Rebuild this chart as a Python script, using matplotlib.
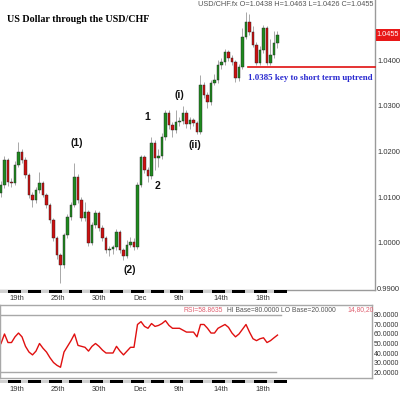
"""
USD/CHF candles with Elliott wave counts and an RSI panel underneath.
"""
import matplotlib.pyplot as plt
from matplotlib.patches import Rectangle

W, H = 400, 399

# candle data, one entry per bar
opens = [1.0109, 1.0127, 1.0181, 1.0133, 1.0131, 1.0170, 1.0199, 1.0181, 1.0148, 1.0105,
         1.0094, 1.0116, 1.0131, 1.0105, 1.0083, 1.0050, 1.0011, 0.9973, 0.9951, 1.0017,
         1.0057, 1.0083, 1.0144, 1.0094, 1.0054, 1.0067, 1.0000, 1.0039, 1.0065, 1.0032,
         1.0011, 0.9984, 0.9986, 0.9991, 1.0024, 0.9984, 0.9971, 0.9995, 1.0002, 0.9991,
         1.0127, 1.0188, 1.0159, 1.0146, 1.0218, 1.0186, 1.0190, 1.0232, 1.0284, 1.0258,
         1.0247, 1.0264, 1.0267, 1.0284, 1.0260, 1.0269, 1.0262, 1.0242, 1.0345, 1.0323,
         1.0308, 1.0350, 1.0356, 1.0389, 1.0396, 1.0418, 1.0404, 1.0396, 1.0361, 1.0385,
         1.0450, 1.0483, 1.0461, 1.0433, 1.0393, 1.0422, 1.0470, 1.0393, 1.0411, 1.0438]
closes = [1.0127, 1.0181, 1.0133, 1.0131, 1.0170, 1.0199, 1.0181, 1.0148, 1.0105, 1.0094,
          1.0116, 1.0131, 1.0105, 1.0083, 1.0050, 1.0011, 0.9973, 0.9951, 1.0017, 1.0057,
          1.0083, 1.0144, 1.0094, 1.0054, 1.0067, 1.0000, 1.0039, 1.0065, 1.0032, 1.0011,
          0.9984, 0.9986, 0.9991, 1.0024, 0.9984, 0.9971, 0.9995, 1.0002, 0.9991, 1.0127,
          1.0188, 1.0159, 1.0146, 1.0218, 1.0186, 1.0190, 1.0232, 1.0284, 1.0258, 1.0247,
          1.0264, 1.0267, 1.0284, 1.0260, 1.0269, 1.0262, 1.0242, 1.0345, 1.0323, 1.0308,
          1.0350, 1.0356, 1.0389, 1.0396, 1.0418, 1.0404, 1.0396, 1.0361, 1.0385, 1.0450,
          1.0483, 1.0461, 1.0433, 1.0393, 1.0422, 1.0470, 1.0393, 1.0411, 1.0438, 1.0455]
highs = [1.0135, 1.0190, 1.0186, 1.0142, 1.0178, 1.0221, 1.0205, 1.0188, 1.0152, 1.0112,
         1.0122, 1.0155, 1.0136, 1.0110, 1.0088, 1.0055, 1.0016, 0.9978, 1.0022, 1.0062,
         1.0090, 1.0175, 1.0150, 1.0100, 1.0090, 1.0072, 1.0045, 1.0072, 1.0070, 1.0038,
         1.0016, 0.9992, 0.9996, 1.0030, 1.0029, 0.9989, 1.0006, 1.0012, 1.0010, 1.0133,
         1.0192, 1.0193, 1.0165, 1.0232, 1.0224, 1.0205, 1.0240, 1.0291, 1.0290, 1.0264,
         1.0290, 1.0275, 1.0300, 1.0290, 1.0276, 1.0273, 1.0267, 1.0367, 1.0352, 1.0330,
         1.0356, 1.0370, 1.0400, 1.0405, 1.0425, 1.0422, 1.0410, 1.0400, 1.0392, 1.0470,
         1.0505, 1.0500, 1.0475, 1.0440, 1.0430, 1.0476, 1.0474, 1.0445, 1.0463, 1.0463]
lows = [1.0100, 1.0120, 1.0125, 1.0122, 1.0126, 1.0165, 1.0175, 1.0142, 1.0098, 1.0078,
        1.0088, 1.0110, 1.0100, 1.0076, 1.0044, 1.0005, 0.9965, 0.9912, 0.9945, 1.0010,
        1.0050, 1.0078, 1.0088, 1.0048, 1.0048, 0.9994, 0.9995, 1.0033, 1.0026, 1.0005,
        0.9978, 0.9971, 0.9975, 0.9985, 0.9978, 0.9962, 0.9966, 0.9990, 0.9985, 0.9986,
        1.0122, 1.0152, 1.0133, 1.0140, 1.0160, 1.0165, 1.0184, 1.0226, 1.0250, 1.0232,
        1.0240, 1.0255, 1.0260, 1.0252, 1.0250, 1.0255, 1.0238, 1.0238, 1.0316, 1.0295,
        1.0302, 1.0345, 1.0350, 1.0380, 1.0390, 1.0398, 1.0390, 1.0352, 1.0355, 1.0380,
        1.0445, 1.0455, 1.0428, 1.0388, 1.0388, 1.0415, 1.0388, 1.0388, 1.0405, 1.0426]
rsi = [50, 60, 51, 51, 57, 61, 57, 47, 41, 38, 42, 50, 45, 41, 35, 30, 27, 25, 41, 47,
       53, 60, 48, 47, 46, 42, 47, 50, 47, 43, 40, 40, 40, 47, 42, 38, 42, 46, 46, 70,
       73, 68, 66, 71, 68, 69, 71, 74, 69, 66, 66, 66, 64, 62, 62, 62, 57, 70, 70, 66,
       61, 61, 66, 68, 70, 67, 61, 57, 60, 65, 70, 62, 55, 53, 55, 56, 51, 53, 56, 58.8635]

date_labels = ["19th", "25th", "30th", "Dec", "9th", "14th", "18th"]
date_pos = [4.6, 16.3, 28.0, 39.7, 50.9, 62.9, 74.9]
price_ticks = [0.99, 1.00, 1.01, 1.02, 1.03, 1.04]
rsi_ticks = [20, 30, 40, 50, 60, 70, 80]
waves = [("(1)", 21.7, 1.0218), ("(2)", 36.8, 0.9940), ("1", 41.7, 1.0275),
         ("2", 44.6, 1.0125), ("(i)", 51.1, 1.0323), ("(ii)", 55.4, 1.0215)]
support = 1.0385

PX = 3.5  # pixels per bar
X0 = -0.2857
SANS = "Liberation Sans"


def fx(x):
    return x / W


def fy(y):
    return 1 - y / H


def date_band(y):
    # light rule with alternating black blocks, as in the trading platform
    fig.add_artist(Rectangle((fx(0), fy(y + 3)), fx(280), 3 / H, color="#d0d0d0", lw=0))
    for p in date_pos:
        t = 1 + PX * p
        for s in (t - 9, t + 11):
            if s < 280:
                fig.add_artist(Rectangle((fx(max(s, 0)), fy(y + 3)), fx(13), 3 / H,
                                         color="black", lw=0))


fig = plt.figure(figsize=(W / 100, H / 100), dpi=100)
fig.patch.set_facecolor("white")

# price panel
ax = fig.add_axes([0, fy(290), fx(375), 290 / H])
ax.set_xlim(X0, X0 + 375 / PX)
ax.set_ylim(0.98968, 1.05313)
for side in ("left", "top"):
    ax.spines[side].set_visible(False)
for side in ("right", "bottom"):
    ax.spines[side].set_color("#9a9a9a")
    ax.spines[side].set_linewidth(1.0)

idx = range(len(closes))
ax.vlines(idx, lows, highs, color="#a8a8a8", lw=0.7, zorder=1)
for i in idx:
    o, c = opens[i], closes[i]
    col = "#1f8a1f" if c >= o else "#cc1111"
    ax.bar(i, max(abs(c - o), 0.00012), bottom=min(o, c), width=0.62, color=col,
           edgecolor="#222222", linewidth=0.3, zorder=2)

ax.yaxis.tick_right()
ax.set_yticks(price_ticks)
ax.set_yticklabels(["%.4f" % v for v in price_ticks])
ax.set_xticks(date_pos)
ax.set_xticklabels(date_labels)
ax.tick_params(length=0, labelsize=5.4, labelcolor="#333333", pad=1.5)
ax.tick_params(axis="x", pad=3.5)
for lab in ax.get_xticklabels() + ax.get_yticklabels():
    lab.set_family(SANS)

ax.plot([70.6, X0 + 375 / PX], [support, support], color="#e01010", lw=1.2,
        clip_on=False, zorder=3)

for txt, xi, yv in waves:
    ax.text(xi, yv, txt, ha="center", va="center", fontsize=7.5, fontweight="bold",
            family=SANS, color="#111111")

fig.text(fx(7), fy(19), "US Dollar through the USD/CHF", fontsize=7.2,
         fontweight="bold", family="Liberation Serif", va="center")
fig.text(fx(373), fy(5), "USD/CHF.fx O=1.0438 H=1.0463 L=1.0426 C=1.0455",
         fontsize=5.3, family=SANS, color="#555555", ha="right", va="center")
fig.text(fx(310), fy(78), "1.0385 key to short term uptrend", fontsize=6.4,
         fontweight="bold", family="Liberation Serif", color="#2a2ad0",
         ha="center", va="center")

# last price tag
fig.add_artist(Rectangle((fx(376), fy(41)), fx(24), 12 / H, color="#e81818", lw=0))
fig.text(fx(388), fy(35), "%.4f" % closes[-1], fontsize=5.3, color="white",
         ha="center", va="center", family=SANS)

date_band(290)

# RSI panel
ax2 = fig.add_axes([0, fy(378), fx(372), 73 / H])
ax2.set_xlim(X0, X0 + 372 / PX)
ax2.set_ylim(13.7, 90.5)
for s in ax2.spines.values():
    s.set_color("#a8a8a8")
    s.set_linewidth(1.0)
ax2.plot(idx, rsi, color="#e01010", lw=1.0)
ax2.plot([X0, 80], [80, 80], color="#a8a8a8", lw=1.0)
ax2.plot([X0, 78.5], [20, 20], color="#a8a8a8", lw=1.0)
ax2.yaxis.tick_right()
ax2.set_yticks(rsi_ticks)
ax2.set_yticklabels(["%.4f" % v for v in rsi_ticks])
ax2.set_xticks(date_pos)
ax2.set_xticklabels(date_labels)
ax2.tick_params(length=0, labelsize=5.0, labelcolor="#333333", pad=1.0)
ax2.tick_params(axis="x", labelsize=5.4, pad=6)
for lab in ax2.get_xticklabels() + ax2.get_yticklabels():
    lab.set_family(SANS)

fig.text(fx(184), fy(310), "RSI=%.4f" % rsi[-1], fontsize=4.9, color="#e06070",
         family=SANS, va="center")
fig.text(fx(227), fy(310), "HI Base=80.0000 LO Base=20.0000", fontsize=4.9,
         color="#555555", family=SANS, va="center")
fig.text(fx(374), fy(310), "14,80,20", fontsize=4.9, color="#e06070",
         family=SANS, va="center", ha="right")

date_band(380)

fig.savefig("out.png", dpi=100)
